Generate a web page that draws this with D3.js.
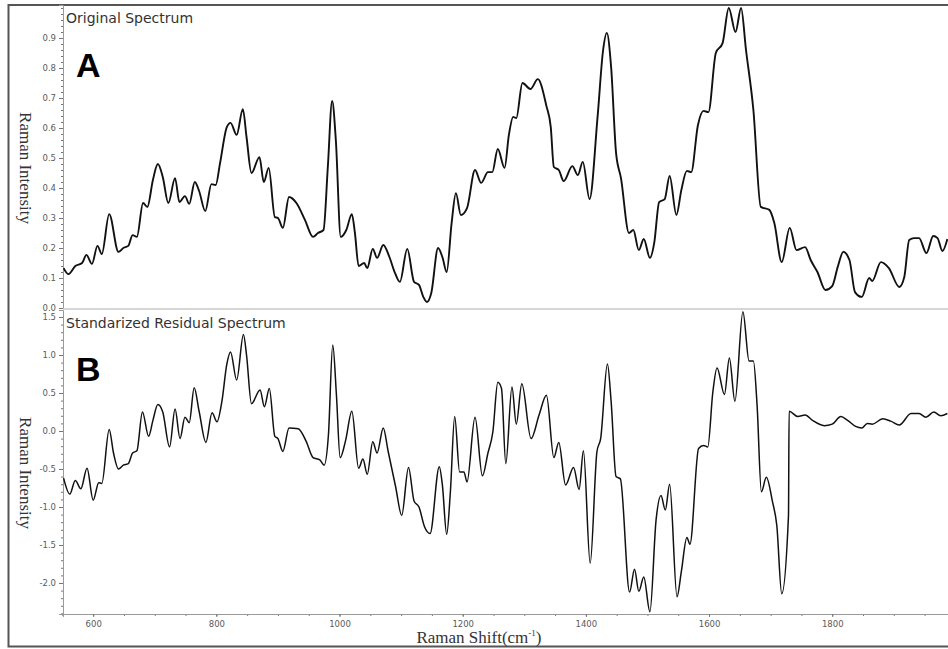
<!DOCTYPE html>
<html>
<head>
<meta charset="utf-8">
<script src="https://cdn.jsdelivr.net/npm/d3@7"></script>
<style>
  body { margin: 0; background: #fff; }
  svg { display: block; }
</style>
</head>
<body>
<svg id="chart" width="948" height="649"></svg>
<script>
// Original Raman spectrum (normalised intensity vs Raman shift, cm^-1)
const origShift = [552,560,571,582,589,598,607,614,626,641,
  649,657,664,671,681,688,697,705,713,722,
  733,740,749,756,765,772,782,792,799,806,
  817,823,833,843,849,857,870,877,885,895,
  900,908,918,930,944,957,965,974,981,988,
  994,1002,1011,1020,1025,1031,1040,1045,1054,1061,
  1071,1081,1090,1098,1110,1121,1129,1136,1142,1149,
  1160,1167,1174,1182,1189,1197,1207,1220,1230,1241,
  1248,1257,1268,1275,1282,1287,1297,1310,1322,1336,
  1343,1348,1356,1364,1378,1387,1395,1406,1419,1428,
  1434,1441,1449,1457,1470,1477,1486,1494,1504,1511,
  1519,1528,1536,1547,1555,1564,1571,1582,1591,1599,
  1611,1622,1632,1643,1652,1660,1672,1684,1698,1706,
  1718,1731,1742,1756,1765,1776,1789,1800,1809,1818,
  1828,1837,1848,1860,1865,1879,1892,1909,1917,1925,
  1933,1941,1953,1964,1971,1979,1987];
const origIntensity = [0.133,0.113,0.14,0.15,0.177,0.147,0.207,0.18,0.313,0.187,
  0.2,0.207,0.243,0.237,0.35,0.337,0.427,0.48,0.437,0.35,
  0.433,0.353,0.373,0.347,0.42,0.39,0.323,0.413,0.41,0.483,
  0.603,0.617,0.577,0.663,0.57,0.45,0.503,0.42,0.467,0.303,
  0.3,0.267,0.37,0.35,0.293,0.237,0.25,0.26,0.47,0.69,
  0.56,0.237,0.26,0.313,0.25,0.14,0.15,0.133,0.197,0.167,
  0.21,0.17,0.117,0.087,0.197,0.087,0.077,0.037,0.02,0.05,
  0.2,0.17,0.12,0.283,0.383,0.31,0.333,0.46,0.417,0.453,
  0.453,0.53,0.467,0.577,0.637,0.633,0.75,0.73,0.763,0.673,
  0.603,0.47,0.46,0.423,0.473,0.443,0.487,0.363,0.637,0.86,
  0.917,0.803,0.517,0.433,0.25,0.26,0.193,0.23,0.167,0.217,
  0.353,0.363,0.44,0.31,0.393,0.457,0.453,0.61,0.657,0.653,
  0.85,0.883,1.0,0.92,1.0,0.86,0.66,0.337,0.327,0.283,
  0.153,0.267,0.193,0.203,0.16,0.12,0.06,0.073,0.137,0.187,
  0.16,0.053,0.037,0.1,0.09,0.153,0.133,0.07,0.103,0.227,
  0.233,0.233,0.183,0.24,0.233,0.19,0.23];

// Standardized residual spectrum
const residShift = [552,562,571,580,590,600,609,614,626,633,
  641,649,657,664,671,680,690,697,705,713,
  724,733,741,749,756,764,772,783,793,801,
  809,817,823,833,844,849,857,871,878,886,
  895,900,908,918,933,946,957,968,975,982,
  989,995,1001,1010,1020,1031,1038,1045,1054,1061,
  1071,1079,1091,1101,1112,1121,1129,1138,1147,1162,
  1167,1174,1180,1187,1195,1202,1207,1220,1232,1241,
  1249,1257,1263,1270,1280,1287,1296,1311,1324,1336,
  1348,1356,1367,1380,1389,1396,1407,1418,1424,1435,
  1441,1449,1456,1471,1479,1486,1494,1504,1514,1522,
  1529,1536,1548,1555,1564,1569,1583,1591,1598,1606,
  1613,1625,1633,1642,1655,1665,1672,1678,1685,1693,
  1703,1710,1718,1729,1730,1744,1756,1768,1787,1800,
  1814,1825,1838,1848,1857,1865,1882,1895,1909,1928,
  1941,1952,1965,1976,1987];
const residIntensity = [-0.62,-0.83,-0.65,-0.76,-0.49,-0.91,-0.68,-0.69,0.02,-0.29,
  -0.5,-0.45,-0.43,-0.29,-0.26,0.25,-0.07,0.14,0.35,0.25,
  -0.21,0.29,-0.1,0.18,0.11,0.57,0.26,-0.15,0.24,0.12,
  0.39,0.88,1.04,0.67,1.27,1.0,0.36,0.54,0.32,0.56,
  -0.07,-0.1,-0.27,0.04,0.03,-0.14,-0.35,-0.38,-0.45,-0.05,
  1.13,0.47,-0.35,-0.12,0.26,-0.49,-0.37,-0.57,-0.14,-0.29,
  0.04,-0.27,-0.73,-1.11,-0.48,-0.92,-1.0,-1.26,-1.35,-0.47,
  -0.71,-1.36,-0.8,0.19,-0.54,-0.54,-0.67,0.18,-0.59,-0.29,
  -0.01,0.64,0.56,-0.43,0.58,0.09,0.62,-0.1,0.21,0.47,
  -0.35,-0.15,-0.71,-0.48,-0.77,-0.26,-1.74,-0.27,-0.1,0.88,
  0.39,-0.6,-0.63,-2.12,-1.82,-2.11,-1.92,-2.38,-1.17,-0.85,
  -1.04,-0.7,-2.18,-1.85,-1.4,-1.49,-0.23,-0.19,-0.21,0.5,
  0.83,0.48,0.96,0.39,1.57,0.92,0.92,0.34,-0.8,-0.61,
  -0.93,-1.24,-2.14,-1.11,0.26,0.19,0.21,0.14,0.07,0.09,
  0.19,0.14,0.06,0.04,0.1,0.09,0.16,0.13,0.08,0.23,
  0.23,0.18,0.25,0.2,0.23];

const shiftTicks = [600, 800, 1000, 1200, 1400, 1600, 1800];
const origTicks = [0, 0.1, 0.2, 0.3, 0.4, 0.5, 0.6, 0.7, 0.8, 0.9];
const residTicks = [-2.0, -1.5, -1.0, -0.5, 0, 0.5, 1.0, 1.5];

const svg = d3.select('#chart');

const x = d3.scaleLinear().domain([551, 1988]).range([63, 948]);
const yTop = d3.scaleLinear().domain([0, 1.01]).range([308, 5]);
const yBot = d3.scaleLinear().domain([-2.408, 1.592]).range([614, 310]);

const tickFont = 'DejaVu Sans, Verdana, sans-serif';

// outer frame
svg.append('rect')
  .attr('x', 8.5).attr('y', 5).attr('width', 1000).attr('height', 641.5)
  .attr('fill', 'none').attr('stroke', '#555').attr('stroke-width', 2);

// clip regions for the two panels
const defs = svg.append('defs');
defs.append('clipPath').attr('id', 'clipTop').append('rect')
  .attr('x', 63).attr('y', 5).attr('width', 890).attr('height', 304);
defs.append('clipPath').attr('id', 'clipBot').append('rect')
  .attr('x', 63).attr('y', 309).attr('width', 890).attr('height', 306);

function styleAxis(g) {
  g.selectAll('.domain').attr('stroke', '#9a9a9a').attr('stroke-width', 1);
  g.selectAll('.tick line').attr('stroke', '#777');
  g.selectAll('.tick text').attr('fill', '#5a5a5a')
    .style('font-family', tickFont).style('font-size', '8.5px');
}

function yAxis(scale, ticks, minor) {
  svg.append('g').attr('transform', 'translate(63,0)')
    .call(d3.axisLeft(scale).tickValues(minor).tickSize(2).tickFormat(''))
    .call(g => { styleAxis(g); g.select('.domain').remove(); });
  svg.append('g').attr('transform', 'translate(63,0)')
    .call(d3.axisLeft(scale).tickValues(ticks).tickSize(4).tickPadding(3)
      .tickFormat(d => d.toFixed(1)))
    .call(styleAxis);
}

yAxis(yTop, origTicks, d3.range(0, 1.005, 0.02));
yAxis(yBot, residTicks, d3.range(-2.4, 1.55, 0.1));

// separator line between the panels (zero line of the upper panel)
svg.append('line')
  .attr('x1', 63).attr('x2', 948).attr('y1', 309).attr('y2', 309)
  .attr('stroke', '#c8c8c8').attr('stroke-width', 1.5);

// shared x axis
svg.append('g').attr('transform', 'translate(0,614)')
  .call(d3.axisBottom(x).tickValues(d3.range(550, 1990, 50)).tickSize(2).tickFormat(''))
  .call(g => { styleAxis(g); g.select('.domain').remove(); });
svg.append('g').attr('transform', 'translate(0,614)')
  .call(d3.axisBottom(x).tickValues(shiftTicks).tickSize(3).tickPadding(4)
    .tickFormat(d3.format('d')))
  .call(styleAxis);

// spectra
const lineTop = d3.line().x(d => x(d[0])).y(d => yTop(d[1])).curve(d3.curveMonotoneX);
const lineBot = d3.line().x(d => x(d[0])).y(d => yBot(d[1])).curve(d3.curveMonotoneX);

svg.append('path')
  .datum(d3.zip(origShift, origIntensity))
  .attr('clip-path', 'url(#clipTop)')
  .attr('d', lineTop)
  .attr('fill', 'none').attr('stroke', '#111').attr('stroke-width', 1.9)
  .attr('stroke-linejoin', 'round');

svg.append('path')
  .datum(d3.zip(residShift, residIntensity))
  .attr('clip-path', 'url(#clipBot)')
  .attr('d', lineBot)
  .attr('fill', 'none').attr('stroke', '#111').attr('stroke-width', 1.5)
  .attr('stroke-linejoin', 'round');

// panel titles and letters
svg.append('text').attr('x', 66).attr('y', 23)
  .style('font-family', tickFont).style('font-size', '14px').attr('fill', '#333')
  .text('Original Spectrum');
svg.append('text').attr('x', 66).attr('y', 328)
  .style('font-family', tickFont).style('font-size', '14px').attr('fill', '#333')
  .text('Standarized Residual Spectrum');

svg.append('text').attr('x', 76).attr('y', 77)
  .style('font-family', 'Liberation Sans, Arial, sans-serif').style('font-weight', 'bold')
  .style('font-size', '34px').attr('fill', '#000').text('A');
svg.append('text').attr('x', 76).attr('y', 381)
  .style('font-family', 'Liberation Sans, Arial, sans-serif').style('font-weight', 'bold')
  .style('font-size', '34px').attr('fill', '#000').text('B');

// axis titles
const serif = 'Liberation Serif, Times New Roman, serif';
[168, 473].forEach(cy => {
  svg.append('text')
    .attr('transform', `translate(20,${cy}) rotate(90)`)
    .attr('text-anchor', 'middle')
    .style('font-family', serif).style('font-size', '17px').attr('fill', '#333')
    .text('Raman Intensity');
});

const xt = svg.append('text').attr('x', 479).attr('y', 643)
  .attr('text-anchor', 'middle')
  .style('font-family', serif).style('font-size', '17px').attr('fill', '#333');
xt.append('tspan').text('Raman Shift(cm');
xt.append('tspan').attr('dy', -7).style('font-size', '9px').text('-1');
xt.append('tspan').attr('dy', 7).text(')');
</script>
</body>
</html>
